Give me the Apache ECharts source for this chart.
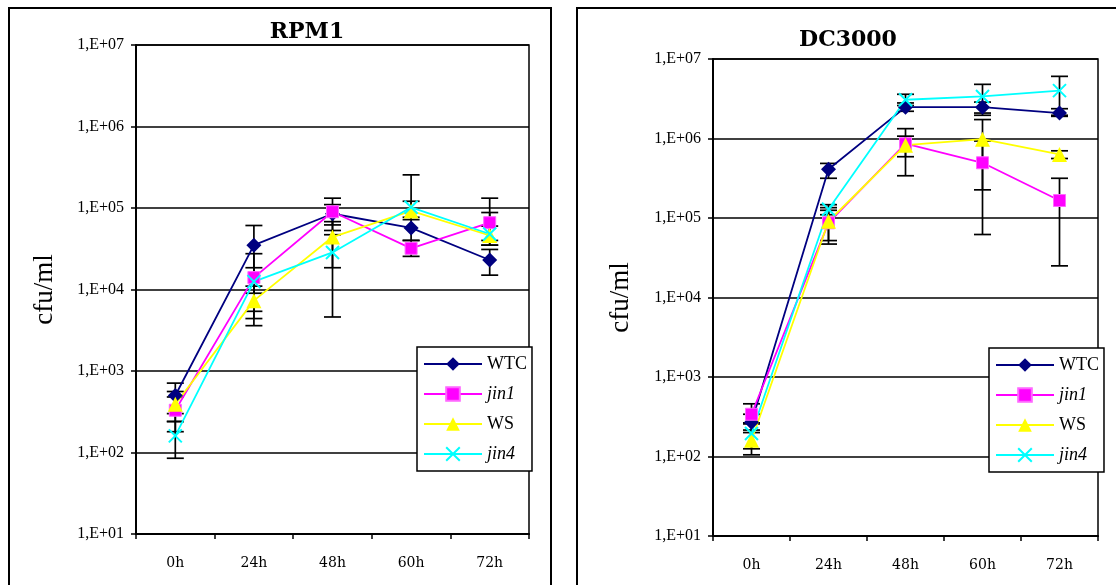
<!DOCTYPE html>
<html>
<head>
<meta charset="utf-8">
<script src="https://cdn.jsdelivr.net/npm/echarts@6/dist/echarts.min.js"></script>
<style>
html,body{margin:0;padding:0;background:#fff;}
#chart{width:1116px;height:585px;}
</style>
</head>
<body>
<div id="chart"></div>
<script>
// ---- data ----
const categories = ['0h', '24h', '48h', '60h', '72h'];
const seriesNames = ['WTC', 'jin1', 'WS', 'jin4'];
const titles = ['RPM1', 'DC3000'];
const yAxisName = 'cfu/ml';

// RPM1 (left)
const rpmWTC  = [500, 35000, 85000, 57000, 23000];
const rpmJin1 = [330, 14000, 90000, 32000, 66000];
const rpmWS   = [390, 7300, 44000, 92000, 46000];
const rpmJin4 = [160, 12500, 28500, 102000, 48000];
const rpmWTCLow  = [300, 9000, 62000, 40000, 15000];
const rpmWTCHigh = [710, 61000, 110000, 77000, 31000];
const rpmJin1Low  = [180, 5400, 47000, 25500, 40000];
const rpmJin1High = [480, 27500, 132000, 40000, 132000];
const rpmWSLow  = [240, 3600, 18500, 72000, 35000];
const rpmWSHigh = [560, 11000, 68000, 121000, 60000];
const rpmJin4Low  = [85, 4400, 4600, null, 35000];
const rpmJin4High = [240, 18500, 53000, 255000, 88000];

// DC3000 (right)
const dcWTC  = [270, 410000, 2480000, 2480000, 2090000];
const dcJin1 = [340, 87000, 860000, 495000, 166000];
const dcWS   = [160, 91000, 825000, 980000, 630000];
const dcJin4 = [195, 129000, 3070000, 3380000, 4000000];
const dcWTCLow  = [200, 316000, 2200000, 2090000, 1900000];
const dcWTCHigh = [340, 486000, 2800000, 2870000, 2370000];
const dcJin1Low  = [257, 52000, 340000, 62000, 25000];
const dcJin1High = [460, 125000, 1330000, 930000, 316000];
const dcWSLow  = [105, 47000, 590000, 226000, 560000];
const dcWSHigh = [215, 135000, 1070000, 1730000, 700000];
const dcJin4Low  = [125, 110000, 2600000, 1960000, 1960000];
const dcJin4High = [265, 147000, 3600000, 4800000, 6050000];

// ---- styles ----
const serif = "'Liberation Serif', 'Times New Roman', serif";
const styleMap = {
  WTC:  {color: '#000080', symbol: 'diamond', size: 15},
  jin1: {color: '#FF00FF', symbol: 'rect', size: 12},
  WS:   {color: '#FFFF00', symbol: 'triangle', size: 15},
  jin4: {color: '#00FFFF', symbol: 'path://M0,0L10,10M10,0L0,10', size: 13}
};

function lineSeries(name, data, idx) {
  const s = styleMap[name];
  const item = {color: s.color};
  if (name === 'jin4') { item.borderColor = s.color; item.borderWidth = 2; }
  if (name === 'jin1') { item.borderColor = '#FF66FF'; item.borderWidth = 1; }
  return {
    type: 'line', name: name, xAxisIndex: idx, yAxisIndex: idx,
    data: data, symbol: s.symbol, symbolSize: s.size,
    lineStyle: {color: s.color, width: 1.8},
    itemStyle: item, z: 3, animation: false
  };
}

function errData(vals, lows, highs) {
  return vals.map((v, i) => [i, v, lows[i] == null ? 0 : lows[i], highs[i] == null ? 0 : highs[i]]);
}

function renderErr(params, api) {
  const x = api.value(0), v = api.value(1), lo = api.value(2), hi = api.value(3);
  const pv = api.coord([x, v]);
  const half = 8.5;
  const st = {stroke: '#000', lineWidth: 1.7};
  const ch = [];
  [lo, hi].forEach(e => {
    if (e > 0) {
      const p = api.coord([x, e]);
      ch.push({type: 'line', shape: {x1: pv[0], y1: pv[1], x2: p[0], y2: p[1]}, style: st});
      ch.push({type: 'line', shape: {x1: p[0] - half, y1: p[1], x2: p[0] + half, y2: p[1]}, style: st});
    }
  });
  return {type: 'group', children: ch};
}

function errSeries(idx, vals, lows, highs) {
  return {
    type: 'custom', name: 'err' + idx, xAxisIndex: idx, yAxisIndex: idx,
    renderItem: renderErr, data: errData(vals, lows, highs),
    encode: {x: 0, y: 1}, z: 2, silent: true, animation: false
  };
}

const yLabel = v => '1,E+' + String(Math.round(Math.log10(v))).padStart(2, '0');

function xAxis(idx) {
  return {
    type: 'category', gridIndex: idx, data: categories, boundaryGap: true,
    axisLine: {lineStyle: {color: '#000', width: 2}},
    axisTick: {show: true, length: 5, lineStyle: {color: '#000', width: 1.5}},
    axisLabel: {color: '#000', fontFamily: "'DejaVu Serif', serif", fontSize: 14, margin: 22}
  };
}
function yAxis(idx, gap) {
  return {
    type: 'log', logBase: 10, gridIndex: idx, min: 10, max: 10000000,
    name: yAxisName, nameLocation: 'middle', nameGap: gap,
    nameTextStyle: {color: '#000', fontFamily: serif, fontSize: 27},
    axisLine: {show: true, lineStyle: {color: '#000', width: 2}},
    axisTick: {show: true, length: 5, lineStyle: {color: '#000', width: 1.5}},
    minorTick: {show: false},
    splitLine: {show: true, lineStyle: {color: '#000', width: 1.5}},
    axisLabel: {color: '#000', fontFamily: serif, fontSize: 16, margin: 12, formatter: yLabel}
  };
}

const legendRich = {
  n: {fontFamily: serif, fontSize: 18, color: '#000'},
  i: {fontFamily: serif, fontSize: 18, color: '#000', fontStyle: 'italic'}
};
function legend(left, top) {
  return {
    orient: 'vertical', left: left, top: top, data: seriesNames,
    itemWidth: 58, itemHeight: 17, itemGap: 12,
    padding: [8, 5, 8, 6],
    backgroundColor: '#fff', borderColor: '#000', borderWidth: 1.5, borderRadius: 0,
    formatter: n => n.indexOf('jin') === 0 ? '{i|' + n + '}' : '{n|' + n + '}',
    textStyle: {rich: legendRich, fontFamily: serif, fontSize: 18, color: '#000'},
    selectedMode: false
  };
}

const chart = echarts.init(document.getElementById('chart'), null, {renderer: 'canvas'});
chart.setOption({
  backgroundColor: '#fff',
  animation: false,
  title: [
    {text: titles[0], left: 307, top: 21, textAlign: 'center', padding: 0,
     textStyle: {fontFamily: "'DejaVu Serif', serif", fontWeight: 'bold', fontSize: 22, color: '#000'}},
    {text: titles[1], left: 848, top: 29, textAlign: 'center', padding: 0,
     textStyle: {fontFamily: "'DejaVu Serif', serif", fontWeight: 'bold', fontSize: 22, color: '#000'}}
  ],
  grid: [
    {left: 136, top: 45, width: 393, height: 489, show: true, borderColor: '#000', borderWidth: 1.5, backgroundColor: 'transparent'},
    {left: 713, top: 59, width: 385, height: 477, show: true, borderColor: '#000', borderWidth: 1.5, backgroundColor: 'transparent'}
  ],
  xAxis: [xAxis(0), xAxis(1)],
  yAxis: [yAxis(0, 78), yAxis(1, 79)],
  legend: [legend(417, 347), legend(989, 348)],
  graphic: [
    {type: 'rect', shape: {x: 9, y: 8, width: 542, height: 620}, style: {fill: 'none', stroke: '#000', lineWidth: 2}, z: -1},
    {type: 'rect', shape: {x: 577, y: 8, width: 620, height: 620}, style: {fill: 'none', stroke: '#000', lineWidth: 2}, z: -1}
  ],
  series: [
    errSeries(0, rpmWTC, rpmWTCLow, rpmWTCHigh),
    errSeries(0, rpmJin1, rpmJin1Low, rpmJin1High),
    errSeries(0, rpmWS, rpmWSLow, rpmWSHigh),
    errSeries(0, rpmJin4, rpmJin4Low, rpmJin4High),
    lineSeries('WTC', rpmWTC, 0),
    lineSeries('jin1', rpmJin1, 0),
    lineSeries('WS', rpmWS, 0),
    lineSeries('jin4', rpmJin4, 0),
    errSeries(1, dcWTC, dcWTCLow, dcWTCHigh),
    errSeries(1, dcJin1, dcJin1Low, dcJin1High),
    errSeries(1, dcWS, dcWSLow, dcWSHigh),
    errSeries(1, dcJin4, dcJin4Low, dcJin4High),
    lineSeries('WTC', dcWTC, 1),
    lineSeries('jin1', dcJin1, 1),
    lineSeries('WS', dcWS, 1),
    lineSeries('jin4', dcJin4, 1)
  ]
});
</script>
</body>
</html>
